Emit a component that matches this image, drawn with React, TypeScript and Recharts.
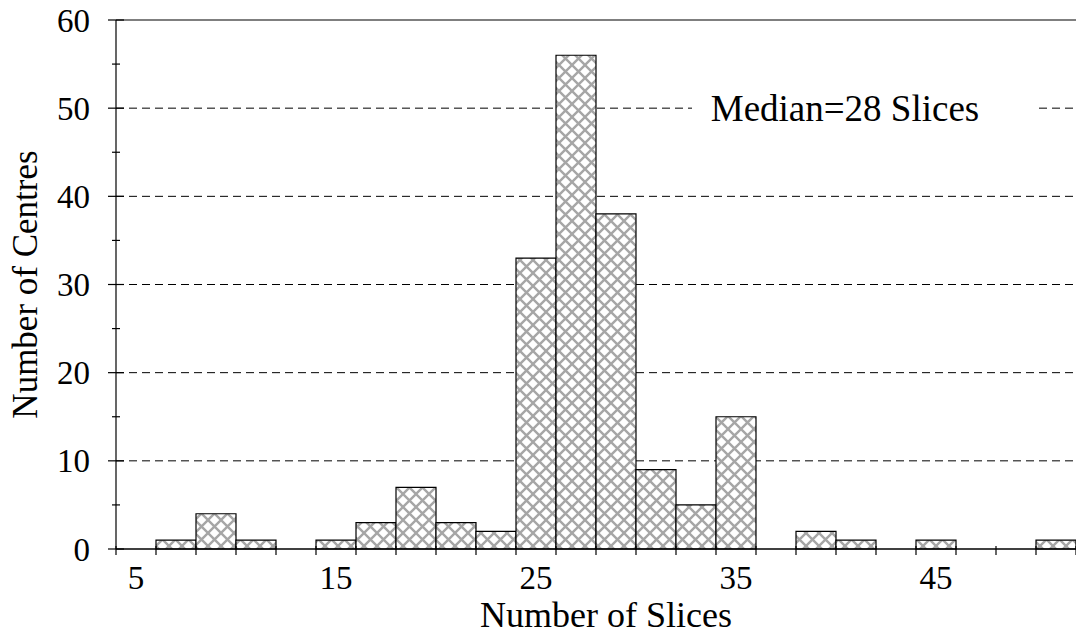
import { BarChart, Bar, XAxis, YAxis, CartesianGrid, ReferenceLine, ReferenceDot } from 'recharts';

// histogram bins (centre of each 2-slice bin) and number of centres in each
const bins = [5, 7, 9, 11, 13, 15, 17, 19, 21, 23, 25, 27, 29, 31, 33, 35, 37, 39, 41, 43, 45, 47, 49, 51];
const counts = [0, 1, 4, 1, 0, 1, 3, 7, 3, 2, 33, 56, 38, 9, 5, 15, 0, 2, 1, 0, 1, 0, 0, 1];

const xTickLabels = [5, 15, 25, 35, 45];
const binEdges = [4, 6, 8, 10, 12, 14, 16, 18, 20, 22, 24, 26, 28, 30, 32, 34, 36, 38, 40, 42, 44, 46, 48, 50, 52];
const yTicks = [0, 5, 10, 15, 20, 25, 30, 35, 40, 45, 50, 55, 60];
const gridValues = [10, 20, 30, 40, 50];

const medianText = 'Median=28 Slices';
const xTitle = 'Number of Slices';
const yTitle = 'Number of Centres';

const data = bins.map((bin, i) => ({ bin, count: counts[i] }));
const xTicks = [...binEdges, ...xTickLabels].sort((a, b) => a - b);

const FONT = '"Liberation Serif", "Times New Roman", serif';

function YTick(props: any) {
  const { x, y, payload } = props;
  const axisX = x + 26;
  const major = payload.value % 10 === 0;
  const half = major ? 8 : 4;
  return (
    <g>
      <line x1={axisX - half} x2={axisX + half} y1={y} y2={y} stroke="#000" strokeWidth={1.2} />
      {major && (
        <text x={x} y={y} dy="0.35em" textAnchor="end" fontSize={33} fontFamily={FONT} fill="#000">
          {payload.value}
        </text>
      )}
    </g>
  );
}

function XTick(props: any) {
  const { x, y, payload } = props;
  const axisY = y - 8;
  if (xTickLabels.includes(payload.value)) {
    return (
      <text x={x} y={axisY + 40} textAnchor="middle" fontSize={33} fontFamily={FONT} fill="#000">
        {payload.value}
      </text>
    );
  }
  return <line x1={x} x2={x} y1={axisY - 3} y2={axisY + 6} stroke="#000" strokeWidth={1.2} />;
}

function MedianNote(props: any) {
  const { cx, cy } = props;
  return (
    <g>
      <rect x={cx - 164} y={cy - 22} width={343} height={44} fill="#fff" />
      <text x={cx - 11} y={cy} dy="0.35em" textAnchor="middle" fontSize={37} fontFamily={FONT} fill="#000">
        {medianText}
      </text>
    </g>
  );
}

export default function App() {
  return (
    <div style={{ position: 'absolute', left: 0, top: 0, background: '#fff' }}>
      <svg width={0} height={0} style={{ position: 'absolute' }}>
        <defs>
          <pattern id="hatch" width={13} height={13} patternUnits="userSpaceOnUse">
            <rect width={13} height={13} fill="#fff" />
            <path d="M0,0 L13,13 M13,0 L0,13" stroke="#a6a6a6" strokeWidth={2.4} />
          </pattern>
        </defs>
      </svg>
      <BarChart
        width={1076}
        height={635}
        data={data}
        margin={{ top: 20, right: 0, bottom: 0, left: 0 }}
        barCategoryGap={0}
        barGap={0}
        style={{ fontFamily: FONT }}
      >
        <CartesianGrid horizontal vertical={false} horizontalValues={gridValues} stroke="#000" strokeDasharray="8 5" />
        <XAxis xAxisId="bins" dataKey="bin" type="category" hide />
        <XAxis
          dataKey="bin"
          type="number"
          domain={[4, 52]}
          ticks={xTicks}
          interval={0}
          allowDataOverflow
          height={86}
          tickSize={8}
          tickMargin={0}
          tickLine={false}
          tick={<XTick />}
          axisLine={{ stroke: '#000', strokeWidth: 1.6 }}
          label={(p: any) => (
            <text
              x={p.viewBox.x + p.viewBox.width / 2 + 10}
              y={p.viewBox.y + 78}
              textAnchor="middle"
              fontSize={36}
              fontFamily={FONT}
              fill="#000"
            >
              {xTitle}
            </text>
          )}
        />
        <YAxis
          domain={[0, 60]}
          ticks={yTicks}
          interval={0}
          width={116}
          tickSize={8}
          tickMargin={18}
          tickLine={false}
          tick={<YTick />}
          axisLine={{ stroke: '#000', strokeWidth: 1.2 }}
          label={(p: any) => {
            const cx = p.viewBox.x + 25;
            const cy = p.viewBox.y + p.viewBox.height / 2;
            return (
              <text
                x={cx}
                y={cy}
                transform={`rotate(-90 ${cx} ${cy})`}
                dy="0.35em"
                textAnchor="middle"
                fontSize={35}
                fontFamily={FONT}
                fill="#000"
              >
                {yTitle}
              </text>
            );
          }}
        />
        <ReferenceLine y={60} stroke="#000" strokeWidth={1.2} />
        <Bar
          xAxisId="bins"
          dataKey="count"
          fill="url(#hatch)"
          stroke="#000"
          strokeWidth={1.2}
          isAnimationActive={false}
        />
        <ReferenceDot xAxisId="bins" x={41} y={50} r={0} shape={<MedianNote />} />
      </BarChart>
    </div>
  );
}
